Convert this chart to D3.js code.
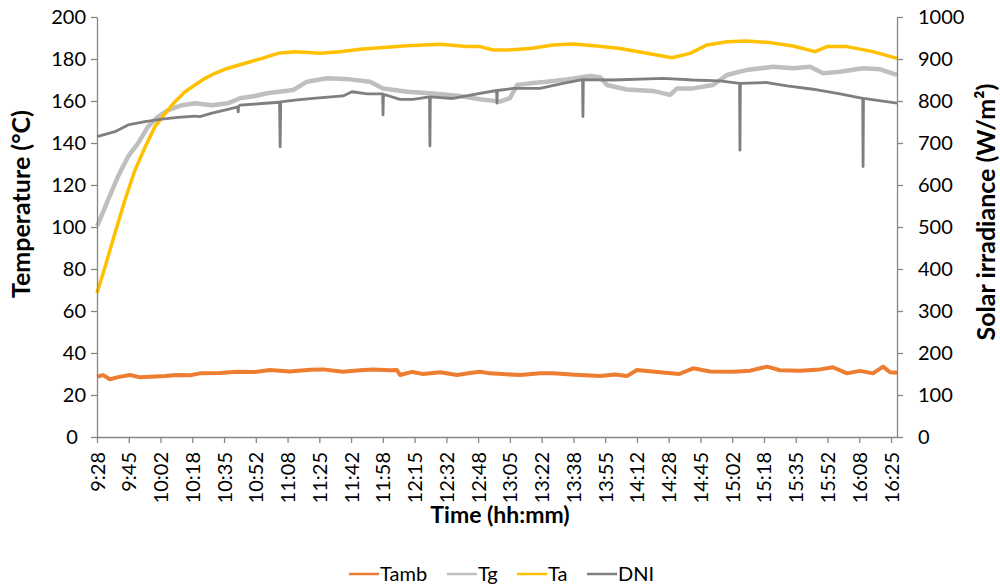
<!DOCTYPE html>
<html>
<head>
<meta charset="utf-8">
<script src="https://cdn.jsdelivr.net/npm/d3@7"></script>
<style>
  body { margin: 0; background: #fff; }
  svg { display: block; }
  text { font-family: Lato, "Open Sans", sans-serif; fill: #000; }
</style>
</head>
<body>
<svg id="chart" width="1000" height="588"></svg>
<script>
// Category labels along the time axis (one every 1000 s from the start of the test)
const timeLabels = ["9:28", "9:45", "10:02", "10:18", "10:35", "10:52", "11:08", "11:25", "11:42",
  "11:58", "12:15", "12:32", "12:48", "13:05", "13:22", "13:38", "13:55", "14:12", "14:28",
  "14:45", "15:02", "15:18", "15:35", "15:52", "16:08", "16:25"];
const tickStepMin = 1000 / 60;      // minutes between time labels
const endMin = 419.8;                // last logged sample, minutes after 9:28
const tempTicks = [0, 20, 40, 60, 80, 100, 120, 140, 160, 180, 200];
const irrTicks = [0, 100, 200, 300, 400, 500, 600, 700, 800, 900, 1000];

// [minutes after 9:28, value]
// Ambient temperature (°C)
const tamb = [[0, 28.7], [3.1, 29.5], [6.8, 27.5], [11, 28.5], [17.3, 29.5], [22.6, 28.4], [27.8, 28.7],
  [35.7, 29], [42, 29.5], [48.8, 29.4], [54, 30.3], [64.5, 30.5], [73.5, 31.1], [82.9, 31],
  [90.8, 31.9], [101.3, 31.2], [111.8, 32], [118.6, 32.2], [129.1, 31.1], [138, 31.8], [144.8, 32.2],
  [153.8, 31.8], [157.4, 31.9], [159, 29.5], [165.3, 31], [171.1, 30], [180, 30.8], [189, 29.5],
  [195.7, 30.5], [201, 31.1], [206.2, 30.3], [222, 29.5], [232.5, 30.4], [239.3, 30.3], [250.8, 29.6],
  [264, 29], [271.8, 29.8], [278.1, 29], [283.3, 31.9], [295.4, 30.8], [305.5, 30], [312.8, 32.7],
  [321.7, 31.2], [333.8, 31.1], [342.7, 31.6], [351.6, 33.5], [358.4, 31.8], [368.9, 31.6],
  [379.4, 32.2], [386.2, 33.2], [393.6, 30.3], [400.4, 31.5], [407.2, 30.3], [412.5, 33.5],
  [416.1, 30.8], [419.8, 30.6]];

// Glass temperature (°C)
const tg = [[0, 100.5], [0.7, 101.7], [5.8, 112.9], [11, 124], [16.3, 133.5], [21.5, 139.8],
  [26.8, 147.8], [32, 152.5], [37.3, 155.7], [44.6, 158], [51.4, 158.9], [60.3, 158], [68.7, 158.9],
  [75, 161.3], [82.9, 162.4], [89.2, 163.7], [102.9, 165.2], [110.2, 169.2], [120.7, 170.8],
  [132.8, 170.3], [143.3, 169.2], [150.1, 166], [162.7, 164.4], [176.3, 163.6], [190.5, 162.4],
  [201, 160.8], [211.5, 159.7], [216.7, 161.4], [220.4, 167.6], [227.2, 168.4], [236.1, 169.2],
  [246.6, 170.3], [258.7, 171.9], [264, 171.3], [267.6, 167.6], [278.1, 165.5], [291.8, 164.8],
  [300.7, 162.9], [304.4, 166], [312.8, 166], [323.3, 167.6], [330.6, 172.4], [341.1, 174.8],
  [354.8, 176.3], [365.3, 175.6], [374.2, 176.3], [381, 173.2], [389.9, 173.9], [402, 175.6],
  [410.9, 175.1], [419.8, 172.4]];

// Absorber temperature (°C)
const ta = [[0, 68.6], [4.2, 81], [9.4, 97], [14.7, 113], [19.9, 127], [25.2, 138], [30.4, 147.8],
  [35.7, 154], [40.9, 159.7], [46.2, 164.4], [51.4, 167.6], [56.7, 170.8], [61.9, 173.2],
  [68.7, 175.6], [77.7, 178], [86.6, 180.3], [95, 182.7], [103.9, 183.5], [117, 182.7],
  [127.5, 183.5], [138, 184.6], [148.5, 185.4], [162.7, 186.3], [180, 187], [194.2, 185.9],
  [201, 185.9], [207.8, 184.3], [215.2, 184.3], [227.2, 185], [239.3, 186.7], [249.8, 187.1],
  [262.4, 186.2], [274.5, 185], [288.6, 182.7], [301.7, 180.6], [311.2, 182.7], [320.1, 186.7],
  [330.6, 188.2], [341.1, 188.6], [353.2, 187.8], [365.3, 186.2], [376.8, 183.5], [383.1, 185.9],
  [393.6, 185.9], [407.2, 183.5], [419.8, 180.3]];

// Direct normal irradiance (W/m²), with the short cloud dips
const dni = [[0, 715], [9.4, 727], [16.3, 743], [25.2, 751], [34.1, 757], [42.5, 761], [51.4, 764],
  [54, 763], [60.3, 771], [68.7, 780], [73.9, 786], [74.1, 774], [74.3, 787], [75, 790], [86.6, 794],
  [95.8, 797], [96.1, 691], [96.4, 798], [103.9, 802], [113.3, 806], [129.1, 812], [133.8, 822],
  [141.7, 817], [149.9, 817], [150.1, 767], [150.3, 816], [159, 804], [165.8, 804], [174.5, 810],
  [174.7, 693], [174.9, 810], [186.8, 806], [201, 818], [209.7, 825], [209.9, 795], [210.1, 825],
  [218.3, 830], [232.5, 830], [244.5, 842], [254.8, 851], [255, 763], [255.2, 851], [270.8, 850],
  [297, 854], [312.8, 850], [326.9, 848], [337.2, 842], [337.4, 683], [337.6, 842], [351.6, 844],
  [362.1, 836], [375.7, 828], [389.9, 817], [401.8, 806], [402, 644], [402.2, 806], [419.8, 795]];

const series = [
  { name: "Tamb", data: tamb, color: "#ED7D31", width: 4,   axis: "T" },
  { name: "Tg",   data: tg,   color: "#BFBFBF", width: 4.5, axis: "T" },
  { name: "Ta",   data: ta,   color: "#FFC000", width: 3.5, axis: "T" },
  { name: "DNI",  data: dni,  color: "#7F7F7F", width: 2.8, axis: "I" }
];

const svg = d3.select("#chart");
const plot = { left: 97, right: 897, top: 17, bottom: 437 };

const x = d3.scaleLinear().domain([0, endMin]).range([plot.left, plot.right]);
const yT = d3.scaleLinear().domain([0, 200]).range([plot.bottom, plot.top]);
const yI = d3.scaleLinear().domain([0, 1000]).range([plot.bottom, plot.top]);

const axisColor = "#868686";

// series lines
series.forEach(s => {
  const y = s.axis === "T" ? yT : yI;
  const line = d3.line().x(d => x(d[0])).y(d => y(d[1]));
  svg.append("path")
    .datum(s.data)
    .attr("d", line)
    .attr("fill", "none")
    .attr("stroke", s.color)
    .attr("stroke-width", s.width)
    .attr("stroke-linejoin", "round")
    .attr("stroke-linecap", "butt");
});

function styleAxis(g) {
  g.select(".domain").attr("stroke", axisColor).attr("stroke-width", 1.3);
  g.selectAll(".tick line").attr("stroke", axisColor).attr("stroke-width", 1.3);
  g.selectAll(".tick text").attr("fill", "#000").style("font-size", "20px");
}

// left axis: temperature
const leftG = svg.append("g")
  .attr("transform", `translate(${plot.left},0)`)
  .call(d3.axisLeft(yT).tickValues(tempTicks).tickFormat(d3.format("d"))
    .tickSize(6).tickSizeOuter(0).tickPadding(5))
  .call(styleAxis);
// the zero label sits centred in the label column
leftG.selectAll(".tick text").filter(d => d === 0)
  .attr("text-anchor", "middle").attr("x", -25);

// right axis: solar irradiance
svg.append("g")
  .attr("transform", `translate(${plot.right},0)`)
  .call(d3.axisRight(yI).tickValues(irrTicks).tickFormat(d3.format("d"))
    .tickSize(6).tickSizeOuter(0).tickPadding(15))
  .call(styleAxis);

// bottom axis: time labels, rotated
const timeTicks = timeLabels.map((_, i) => i * tickStepMin);
const xg = svg.append("g")
  .attr("transform", `translate(0,${plot.bottom})`)
  .call(d3.axisBottom(x).tickValues(timeTicks).tickFormat((d, i) => timeLabels[i])
    .tickSize(6).tickSizeOuter(0))
  .call(styleAxis);
xg.selectAll(".tick text")
  .attr("transform", "rotate(-90)")
  .attr("text-anchor", "end")
  .attr("x", -15)
  .attr("y", 0)
  .attr("dy", "0.35em");

// axis titles
svg.append("text")
  .attr("transform", `translate(21,204) rotate(-90)`)
  .attr("text-anchor", "middle")
  .attr("dy", "0.35em")
  .style("font-size", "25px").style("font-weight", "bold")
  .text("Temperature (°C)");

svg.append("text")
  .attr("transform", `translate(986,212) rotate(-90)`)
  .attr("text-anchor", "middle")
  .attr("dy", "0.35em")
  .style("font-size", "25px").style("font-weight", "bold")
  .text("Solar irradiance (W/m²)");

svg.append("text")
  .attr("x", 500)
  .attr("y", 515)
  .attr("text-anchor", "middle")
  .attr("dy", "0.35em")
  .style("font-size", "23px").style("font-weight", "bold")
  .text("Time (hh:mm)");

// legend
const legendX = [349, 447, 517, 587];
const legend = svg.append("g");
series.forEach((s, i) => {
  const g = legend.append("g").attr("transform", `translate(${legendX[i]},574)`);
  g.append("line").attr("x1", 0).attr("x2", 30).attr("y1", 0).attr("y2", 0)
    .attr("stroke", s.color).attr("stroke-width", 2.5);
  g.append("text").attr("x", 31).attr("dy", "0.35em")
    .style("font-size", "20px").text(s.name);
});
</script>
</body>
</html>
